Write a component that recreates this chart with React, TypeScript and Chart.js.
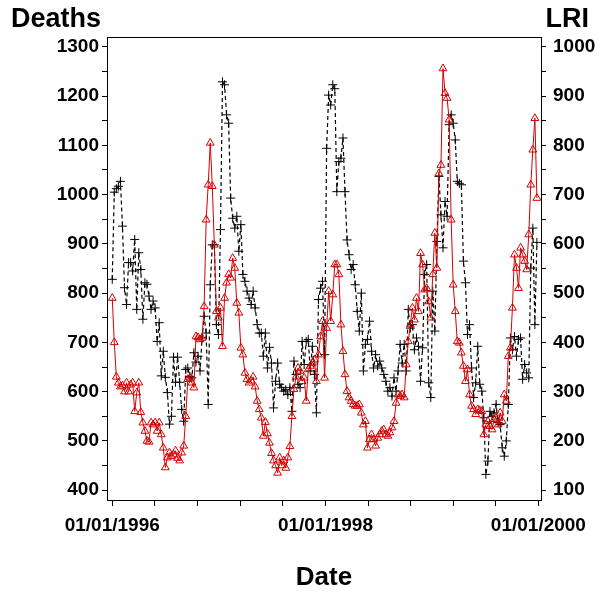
import React, { useEffect, useRef } from 'react';
import { Chart, registerables } from 'chart.js';

Chart.register(...registerables);

// Weekly series starting 01/01/1996
const deaths = [
  828, 1005, 1012, 1017, 1027, 936, 811, 777, 862, 862,
  845, 909, 767, 882, 848, 747, 821, 818, 794, 767,
  784, 770, 702, 740, 632, 682, 629, 598, 534, 550,
  670, 619, 670, 619, 564, 540, 645, 648, 631, 628,
  679, 660, 672, 642, 709, 753, 719, 574, 817, 898,
  898, 736, 716, 929, 1229, 1223, 1162, 1145, 993, 952,
  932, 956, 885, 939, 838, 824, 804, 790, 777, 804,
  770, 736, 719, 719, 672, 719, 648, 690, 658, 567,
  621, 658, 615, 608, 601, 604, 594, 608, 560, 662,
  635, 615, 608, 702, 655, 702, 706, 642, 692, 635,
  557, 787, 810, 824, 675, 1094, 1202, 1182, 1223, 1215,
  1006, 1067, 1074, 1115, 1006, 908, 878, 848, 858, 817,
  763, 723, 800, 642, 696, 706, 743, 682, 648, 675,
  652, 662, 648, 635, 621, 601, 608, 591, 628, 601,
  642, 696, 658, 696, 642, 767, 729, 736, 685, 709,
  692, 621, 689, 838, 858, 618, 588, 804, 723, 905,
  1037, 959, 892, 986, 956, 1142, 1162, 1145, 1111, 1027,
  1023, 1020, 865, 821, 716, 736, 648, 588, 618, 692,
  615, 601, 547, 432, 459, 560, 550, 557, 574, 537,
  533, 486, 469, 500, 574, 709, 685, 712, 672, 706,
  709, 625, 655, 638, 628, 851, 932, 736, 903,
];

const lri = [
  490, 400, 330, 318, 310, 312, 300, 318, 300, 314,
  318, 260, 298, 318, 258, 237, 220, 200, 198, 237,
  233, 237, 220, 237, 213, 186, 146, 166, 176, 169,
  172, 180, 165, 160, 176, 190, 250, 325, 328, 318,
  308, 412, 410, 406, 409, 473, 649, 720, 805, 717,
  598, 463, 450, 470, 392, 490, 521, 538, 531, 571,
  551, 480, 460, 389, 375, 338, 325, 318, 322, 330,
  310, 281, 264, 247, 210, 238, 215, 196, 175, 160,
  150, 135, 166, 150, 160, 145, 166, 189, 250, 305,
  330, 348, 342, 321, 328, 281, 345, 352, 358, 365,
  321, 375, 412, 443, 328, 429, 504, 443, 497, 558,
  558, 538, 436, 382, 335, 301, 288, 281, 274, 271,
  271, 274, 257, 233, 240, 186, 203, 213, 203, 190,
  206, 213, 220, 223, 213, 210, 217, 227, 240, 277,
  294, 291, 294, 288, 355, 402, 436, 470, 446, 490,
  463, 581, 558, 507, 510, 483, 450, 538, 622, 551,
  743, 760, 956, 906, 896, 852, 649, 517, 463, 402,
  399, 379, 352, 321, 345, 294, 271, 264, 254, 264,
  262, 260, 213, 233, 240, 230, 223, 244, 247, 233,
  257, 240, 294, 281, 372, 389, 470, 578, 551, 510,
  592, 578, 565, 548, 619, 720, 791, 855, 693,
];

// Date axis: days since 01/01/1996
const xTickLabels = ['01/01/1996', '01/01/1998', '01/01/2000'];
const xLabelDays = [0, 731, 1461];
const deathsTickLabels = [400, 500, 600, 700, 800, 900, 1000, 1100, 1200, 1300];
const lriTickLabels = [100, 200, 300, 400, 500, 600, 700, 800, 900, 1000];

const FONT = "'Liberation Sans', Arial, Helvetica, sans-serif";
const RED = '#d40000';

const weekDays = deaths.map((_, i) => i * 7);

// 4 minor ticks between labelled dates
const xTickDays: number[] = [];
for (let k = 0; k < xLabelDays.length - 1; k++) {
  const a = xLabelDays[k];
  const b = xLabelDays[k + 1];
  for (let j = 0; j < 5; j++) xTickDays.push(a + ((b - a) * j) / 5);
}
xTickDays.push(xLabelDays[xLabelDays.length - 1]);

const withHalfSteps = (labels: number[]) => {
  const out: number[] = [];
  labels.forEach((v, i) => {
    out.push(v);
    if (i < labels.length - 1) out.push((v + labels[i + 1]) / 2);
  });
  return out;
};

const headerPlugin = {
  id: 'header',
  beforeDatasetsDraw(chart: any) {
    const { ctx, chartArea } = chart;
    ctx.save();
    ctx.strokeStyle = '#000';
    ctx.lineWidth = 1;
    const y = Math.round(chartArea.top) + 0.5;
    ctx.beginPath();
    ctx.moveTo(Math.round(chartArea.left), y);
    ctx.lineTo(Math.round(chartArea.right) + 1, y);
    ctx.stroke();
    ctx.restore();
  },
  afterDraw(chart: any) {
    const { ctx } = chart;
    ctx.save();
    ctx.fillStyle = '#000';
    ctx.font = `bold 27px ${FONT}`;
    ctx.textBaseline = 'alphabetic';
    ctx.textAlign = 'left';
    ctx.fillText('Deaths', 11, 27);
    ctx.textAlign = 'right';
    ctx.fillText('LRI', 589, 27);
    ctx.restore();
  },
};

export default function App() {
  const ref = useRef<HTMLCanvasElement | null>(null);

  useEffect(() => {
    if (!ref.current) return;
    const tickFont = { family: FONT, size: 19, weight: 'bold' as const };
    const chart = new Chart(ref.current, {
      type: 'line',
      data: {
        datasets: [
          {
            label: 'LRI',
            data: lri.map((v, i) => ({ x: weekDays[i], y: v })),
            yAxisID: 'y1',
            borderColor: RED,
            borderWidth: 1,
            pointStyle: 'triangle',
            pointRadius: 4.5,
            pointBorderColor: RED,
            pointBorderWidth: 1,
            pointBackgroundColor: 'rgba(0,0,0,0)',
            fill: false,
            tension: 0,
          },
          {
            label: 'Deaths',
            data: deaths.map((v, i) => ({ x: weekDays[i], y: v })),
            yAxisID: 'y',
            borderColor: '#000',
            borderWidth: 1.2,
            borderDash: [4, 3],
            pointStyle: 'cross',
            pointRadius: 4.5,
            pointBorderColor: '#000',
            pointBorderWidth: 1,
            pointBackgroundColor: '#000',
            fill: false,
            tension: 0,
          },
        ],
      },
      options: {
        responsive: false,
        animation: false,
        devicePixelRatio: 1,
        layout: { padding: { top: 37, left: 0, right: 0, bottom: 0 } },
        plugins: {
          legend: { display: false },
          tooltip: { enabled: false },
          title: { display: false },
        },
        scales: {
          x: {
            type: 'linear',
            min: -18,
            max: 1470,
            afterBuildTicks: (s: any) => {
              s.ticks = xTickDays.map((v) => ({ value: v }));
            },
            afterFit: (s: any) => {
              s.height = 100;
            },
            ticks: {
              autoSkip: false,
              maxRotation: 0,
              minRotation: 0,
              padding: 8,
              color: '#000',
              font: tickFont,
              callback: (v: any) => {
                const idx = xLabelDays.findIndex((d) => Math.abs(d - Number(v)) < 0.5);
                return idx >= 0 ? xTickLabels[idx] : '';
              },
            },
            grid: { drawOnChartArea: false, drawTicks: true, tickLength: 6, color: '#000', lineWidth: 1 },
            border: { display: true, color: '#000', width: 1 },
            title: {
              display: true,
              text: 'Date',
              color: '#000',
              font: { family: FONT, size: 26, weight: 'bold' },
              padding: { top: 0, bottom: 7 },
            },
          },
          y: {
            type: 'linear',
            position: 'left',
            min: 380,
            max: 1320,
            afterBuildTicks: (s: any) => {
              s.ticks = withHalfSteps(deathsTickLabels).map((v) => ({ value: v }));
            },
            afterFit: (s: any) => {
              s.width = 107;
            },
            ticks: {
              autoSkip: false,
              padding: 3,
              color: '#000',
              font: tickFont,
              callback: (v: any) => (deathsTickLabels.includes(Number(v)) ? String(v) : ''),
            },
            grid: { drawOnChartArea: false, drawTicks: true, tickLength: 5, color: '#000', lineWidth: 1 },
            border: { display: true, color: '#000', width: 1 },
          },
          y1: {
            type: 'linear',
            position: 'right',
            min: 80,
            max: 1020,
            afterBuildTicks: (s: any) => {
              s.ticks = withHalfSteps(lriTickLabels).map((v) => ({ value: v }));
            },
            afterFit: (s: any) => {
              s.width = 59;
            },
            ticks: {
              autoSkip: false,
              padding: 7,
              color: '#000',
              font: tickFont,
              callback: (v: any) => (lriTickLabels.includes(Number(v)) ? String(v) : ''),
            },
            grid: { drawOnChartArea: false, drawTicks: true, tickLength: 5, color: '#000', lineWidth: 1 },
            border: { display: true, color: '#000', width: 1 },
          },
        },
      },
      plugins: [headerPlugin],
    } as any);
    return () => chart.destroy();
  }, []);

  return (
    <div style={{ position: 'absolute', left: 0, top: 0, width: 600, height: 600, background: '#fff' }}>
      <canvas ref={ref} width={600} height={600} style={{ width: 600, height: 600, display: 'block' }} />
    </div>
  );
}
